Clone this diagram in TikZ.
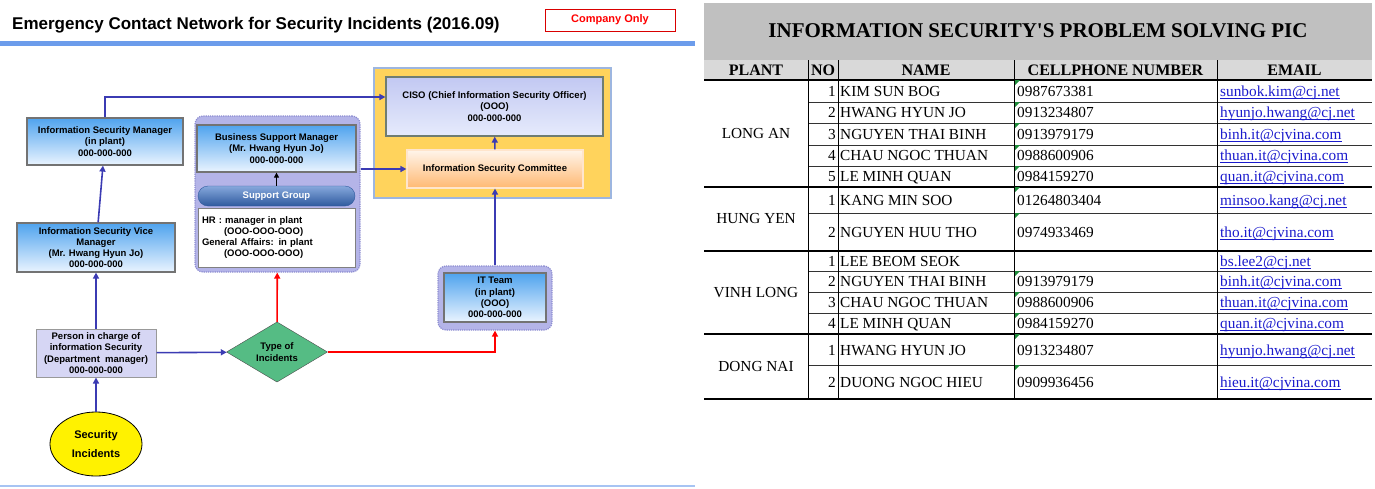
\documentclass[tikz,border=0pt]{standalone}
\usepackage{fontspec}
\setmainfont{Liberation Serif}
\setsansfont{Liberation Sans}
\usetikzlibrary{arrows.meta,positioning,shapes.geometric}
\definecolor{boxtop}{HTML}{4FA3EE}
\definecolor{boxbot}{HTML}{EAF4FF}
\definecolor{lav}{HTML}{B4B4E8}
\definecolor{lavbd}{HTML}{8C8CD0}
\definecolor{gold}{HTML}{FFD35C}
\definecolor{goldbd}{HTML}{9DB6E0}
\definecolor{cisotop}{HTML}{C2C8F2}
\definecolor{cisobot}{HTML}{E6EBFC}
\definecolor{cisobd}{HTML}{6F7D72}
\definecolor{linkblue}{HTML}{3B3BB3}
\definecolor{hotred}{HTML}{FF0000}
\definecolor{rhomb}{HTML}{55BC84}
\definecolor{picfill}{HTML}{D6D6F4}
\definecolor{barblue}{HTML}{6C9CEB}
\definecolor{pilltop}{HTML}{86A8DC}
\definecolor{pillbot}{HTML}{2F5A9E}
\definecolor{ttlgray}{HTML}{C0C0C0}
\definecolor{hdrgray}{HTML}{D9D9D9}
\definecolor{mailblue}{HTML}{1A1ACC}
\definecolor{xlgreen}{HTML}{1E8C3A}
\tikzset{bev/.style={draw=black!55,line width=1.2pt,top color=boxtop,bottom color=boxbot,align=center,font=\sffamily\bfseries\fontsize{9.5}{11.5}\selectfont,inner sep=0pt},grp/.style={draw=lavbd,densely dotted,line width=1.2pt,fill=lav,rounded corners=8pt,inner sep=0pt},link/.style={-{Triangle[length=6pt,width=6pt]},line width=1.6pt,draw=linkblue},hot/.style={link,draw=hotred},cell/.style={font=\fontsize{15.3}{18}\selectfont,inner sep=0pt,anchor=base west},head/.style={font=\bfseries\fontsize{16}{19}\selectfont,inner sep=0pt},mail/.style={cell,text=mailblue}}

\begin{document}
\begin{tikzpicture}[x=1pt,y=-1pt]
\useasboundingbox (0,0) rectangle (1375,488);
\node[anchor=west,font=\sffamily\bfseries\fontsize{17}{20}\selectfont,inner sep=0pt] (title) at (12,25) {Emergency Contact Network for Security Incidents (2016.09)};
\node[draw=hotred!85!black,thick,text=hotred,font=\sffamily\bfseries\fontsize{11}{13}\selectfont,minimum width=130,minimum height=22,inner sep=0pt] (conly) at (610,20) {Company Only};
\draw[barblue,line width=5pt] (0,43) -- (695,43);
\draw[barblue!60,line width=1.5pt] (0,486) -- (695,486);
\node[grp,minimum width=165,minimum height=156] (sup) at (277.5,194) {};
\node[draw=goldbd,line width=1.5pt,fill=gold,minimum width=237,minimum height=130] (cgrp) at (492.5,133) {};
\node[grp,minimum width=114,minimum height=64] (itg) at (495,298) {};
\node[bev,minimum width=156,minimum height=47] (ism) at (105,141.5) {Information Security Manager\\(in plant)\\000-000-000};
\node[bev,minimum width=158,minimum height=49,font=\sffamily\bfseries\fontsize{9.5}{10.8}\selectfont] (vice) at (96,247.5) {Information Security Vice\\Manager\\(Mr. Hwang Hyun Jo)\\000-000-000};
\node[bev,minimum width=159,minimum height=47] (bsm) at (276.5,148.5) {Business Support Manager\\(Mr. Hwang Hyun Jo)\\000-000-000};
\node[draw=pillbot,top color=pilltop,bottom color=pillbot,rounded corners=10pt,minimum width=157,minimum height=20,inner sep=0pt,text=white,font=\sffamily\bfseries\fontsize{9.5}{11.5}\selectfont] (sg) at (276.5,196) {Support Group};
\node[draw=black!50,fill=white,minimum width=157,minimum height=59,text width=149,align=left,inner sep=0pt,font=\sffamily\bfseries\fontsize{9.5}{11}\selectfont] (hr) at (276.5,237.5) {HR : manager in plant\\\hspace*{22pt}(OOO-OOO-OOO)\\General Affairs: in plant\\\hspace*{22pt}(OOO-OOO-OOO)};
\node[bev,top color=cisotop,bottom color=cisobot,draw=cisobd,minimum width=217,minimum height=59] (ciso) at (494.5,106.5) {CISO (Chief Information Security Officer)\\(OOO)\\000-000-000};
\node[bev,draw=white!80!orange,top color=orange!8,bottom color=orange!55,minimum width=176,minimum height=38] (com) at (495,169) {Information Security Committee};
\node[bev,minimum width=102,minimum height=49,font=\sffamily\bfseries\fontsize{9.5}{11.3}\selectfont] (it) at (495,297.5) {IT Team\\(in plant)\\(OOO)\\000-000-000};
\node[bev,draw=black!40,line width=1pt,top color=picfill,bottom color=picfill,minimum width=120,minimum height=48] (pic) at (96,353) {Person in charge of\\information Security\\(Department~ manager)\\000-000-000};
\node[diamond,draw=black!70,fill=rhomb,minimum width=101,minimum height=42,inner sep=0pt,align=center,font=\sffamily\bfseries\fontsize{9.5}{11.5}\selectfont] (typ) at (277,352) {Type of\\Incidents};
\node[ellipse,draw=black,thick,fill=yellow,minimum width=92,minimum height=64,inner sep=0pt,align=center,font=\sffamily\bfseries\fontsize{11}{19}\selectfont] (sec) at (96,444) {Security\\Incidents};
\draw[link] (sec) -- (pic);
\draw[link] (pic) -- (vice);
\draw[link] (vice) -- (ism);
\draw[link] (ism.north) |- ([yshift=9.5pt]ciso.west);
\draw[link] (sup.east |- com.west) -- (com.west);
\draw[link] (com) -- (ciso);
\draw[link] (itg) -- (com);
\draw[link] (pic) -- (typ);
\draw[-{Triangle[length=5pt,width=5pt]},thick] (sg) -- (bsm);
\draw[hot] (typ) -- (sup);
\draw[hot] (typ.east) -| (itg.south);
\fill[ttlgray] (704,3) rectangle (1372,60);
\fill[hdrgray] (704,60) rectangle (1372,80);
\node[font=\bfseries\fontsize{21}{25}\selectfont,inner sep=0pt] (thead) at (1038,31) {INFORMATION SECURITY\textquotesingle S PROBLEM SOLVING PIC};
\node[head] (hplant) at (756,70.5) {PLANT};
\node[head] (hno) at (823,70.5) {NO};
\node[head] (hname) at (926,70.5) {NAME};
\node[head] (hcell) at (1115.5,70.5) {CELLPHONE NUMBER};
\node[head] (hmail) at (1294.5,70.5) {EMAIL};
\foreach \yy in {80,187,251,334,399} \draw[line width=1.2pt] (704,\yy) -- (1372,\yy);
\foreach \yy in {102,123,145,166,213,271,292,313,365} \draw[black!80] (808,\yy) -- (1372,\yy);
\foreach \xx in {808,838,1014,1217} \draw (\xx,60) -- (\xx,399);
\foreach \yy in {80,102,123,145,166,187,213,271,292,313,334,365} \fill[xlgreen] (1015,\yy) -- ++(5,0) -- ++(-5,5) -- cycle;
\node[font=\fontsize{15.3}{18}\selectfont,inner sep=0pt] (plong) at (756,134) {LONG AN};
\node[font=\fontsize{15.3}{18}\selectfont,inner sep=0pt] (phung) at (756,219) {HUNG YEN};
\node[font=\fontsize{15.3}{18}\selectfont,inner sep=0pt] (pvinh) at (756,292.5) {VINH LONG};
\node[font=\fontsize{15.3}{18}\selectfont,inner sep=0pt] (pdong) at (756,366.5) {DONG NAI};
\foreach \yy/\nn/\who/\tel/\addr [count=\k] in {91/1/KIM SUN BOG/0987673381/sunbok.kim@cj.net,112.5/2/HWANG HYUN JO/0913234807/hyunjo.hwang@cj.net,134/3/NGUYEN THAI BINH/0913979179/binh.it@cjvina.com,155.5/4/CHAU NGOC THUAN/0988600906/thuan.it@cjvina.com,176.5/5/LE MINH QUAN/0984159270/quan.it@cjvina.com,200.5/1/KANG MIN SOO/01264803404/minsoo.kang@cj.net,232/2/NGUYEN HUU THO/0974933469/tho.it@cjvina.com,261/1/LEE BEOM SEOK/{}/bs.lee2@cj.net,281.5/2/NGUYEN THAI BINH/0913979179/binh.it@cjvina.com,302.5/3/CHAU NGOC THUAN/0988600906/thuan.it@cjvina.com,323.5/4/LE MINH QUAN/0984159270/quan.it@cjvina.com,350/1/HWANG HYUN JO/0913234807/hyunjo.hwang@cj.net,382/2/DUONG NGOC HIEU/0909936456/hieu.it@cjvina.com}{
\node[cell,anchor=base east] (no\k) at (836,\yy+5) {\nn};
\node[cell] (who\k) at (840,\yy+5) {\who};
\node[cell] (tel\k) at (1017,\yy+5) {\tel};
\node[mail] (mail\k) at (1220,\yy+5) {\addr};
\draw[mailblue,line width=0.8pt] ([yshift=-2pt]mail\k.base west) -- ([yshift=-2pt]mail\k.base east);
}
\end{tikzpicture}
\end{document}
